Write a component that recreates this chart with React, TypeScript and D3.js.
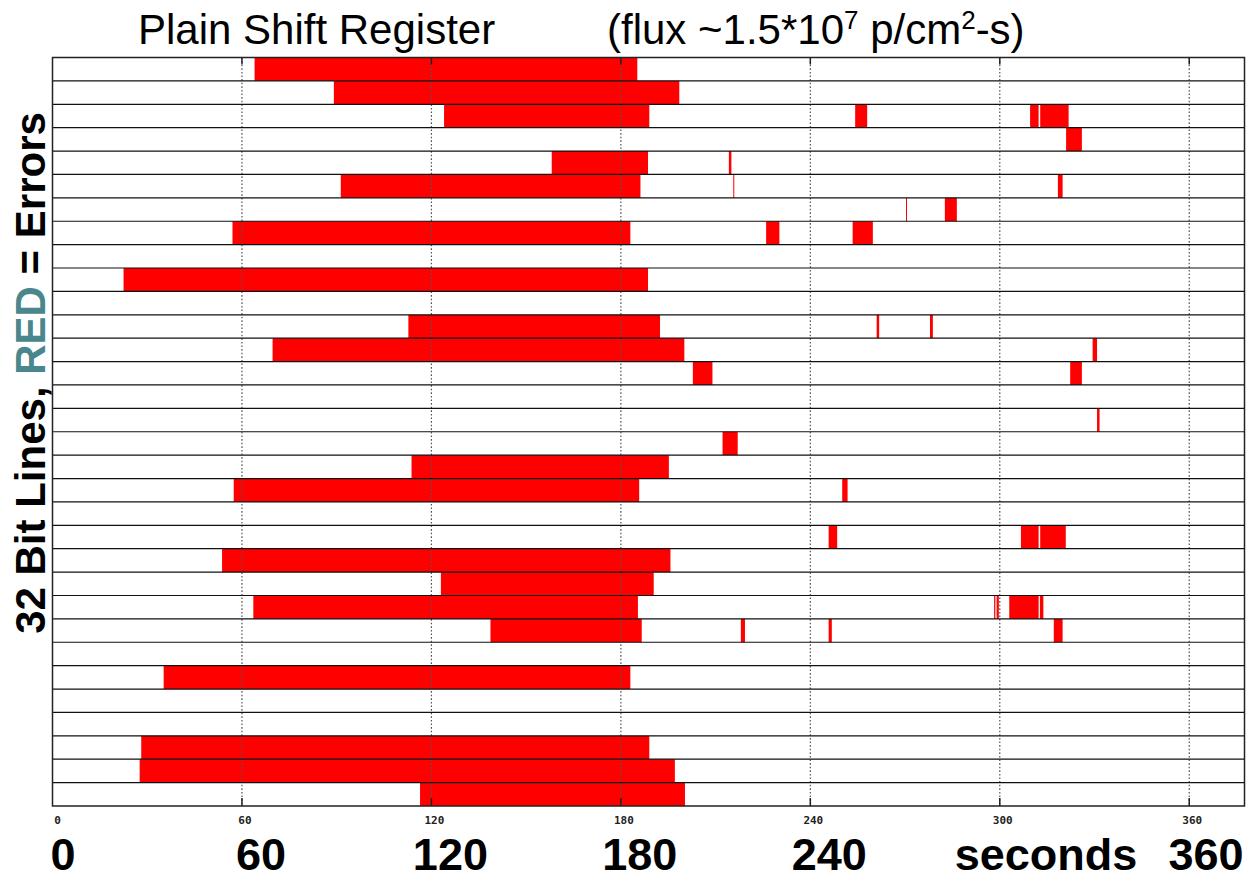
import React, { useRef, useEffect } from "react";
import * as d3 from "d3";

// 32 bit lines, line 1 is the top row
const bitLines = d3.range(1, 33);
const gridTicks = [0, 60, 120, 180, 240, 300, 360];
const bigTickLabels = [0, 60, 120, 180, 240, 360];
const axisWord = "seconds";

// error spans: [bit line, start (s), end (s)]
const errorSpans: [number, number, number][] = [
  [1, 64.0, 185.2],
  [2, 89.1, 198.5],
  [3, 124.0, 189.0], [3, 254.2, 258.0], [3, 309.6, 312.3], [3, 312.8, 321.8],
  [4, 321.0, 326.0],
  [5, 158.1, 188.6], [5, 214.2, 215.0],
  [6, 91.3, 186.2], [6, 215.6, 215.9], [6, 318.4, 319.9],
  [7, 270.3, 270.6], [7, 282.6, 286.4],
  [8, 57.0, 183.0], [8, 226.0, 230.2], [8, 253.4, 259.8],
  [10, 22.5, 188.6],
  [12, 112.7, 192.4], [12, 261.0, 261.8], [12, 277.9, 278.8],
  [13, 69.7, 200.1], [13, 329.4, 330.8],
  [14, 202.8, 209.0], [14, 322.3, 326.0],
  [16, 330.8, 331.6],
  [17, 212.2, 217.0],
  [18, 113.7, 195.2],
  [19, 57.4, 185.8], [19, 250.1, 251.8],
  [21, 245.8, 248.5], [21, 306.7, 312.3], [21, 312.8, 320.9],
  [22, 53.7, 195.7],
  [23, 123.0, 190.4],
  [24, 63.6, 185.4], [24, 298.2, 298.6], [24, 299.0, 299.7], [24, 303.0, 312.3], [24, 312.7, 313.8],
  [25, 138.7, 186.6], [25, 218.0, 219.3], [25, 245.8, 246.8], [25, 317.1, 319.9],
  [27, 35.2, 183.0],
  [30, 28.1, 189.0],
  [31, 27.6, 197.1],
  [32, 116.4, 200.3],
];

const W = 1249;
const H = 880;
const SANS = "'Liberation Sans', Arial, sans-serif";

const ErrorChart = () => {
  const svgRef = useRef<SVGSVGElement>(null);

  useEffect(() => {
    const svg = d3.select(svgRef.current);
    svg.selectAll("*").remove();

    const left = 52.5, right = 1244.5, top = 57.5, bottom = 806;

    const x = d3.scaleLinear().domain([0, 377.5]).range([left, right]);
    const y = d3.scaleBand<number>().domain(bitLines).range([top, bottom]).padding(0);

    svg.append("rect").attr("width", W).attr("height", H).attr("fill", "#fff");

    // red error bars
    svg
      .append("g")
      .selectAll("rect")
      .data(errorSpans)
      .join("rect")
      .attr("x", (d) => x(d[1]))
      .attr("y", (d) => y(d[0]))
      .attr("width", (d) => Math.max(1, x(d[2]) - x(d[1])))
      .attr("height", y.bandwidth())
      .attr("fill", "#ff0000");

    // dotted vertical grid
    svg
      .append("g")
      .selectAll("line")
      .data(gridTicks.slice(1))
      .join("line")
      .attr("x1", (d) => x(d))
      .attr("x2", (d) => x(d))
      .attr("y1", top)
      .attr("y2", bottom)
      .attr("stroke", "#555")
      .attr("stroke-width", 1.2)
      .attr("stroke-dasharray", "1.6,2");

    // row separators
    svg
      .append("g")
      .selectAll("line")
      .data(bitLines.slice(1))
      .join("line")
      .attr("x1", left)
      .attr("x2", right)
      .attr("y1", (d) => y(d))
      .attr("y2", (d) => y(d))
      .attr("stroke", "#111")
      .attr("stroke-width", 1.2);

    // tick marks top and bottom
    const ticks = svg.append("g").attr("stroke", "#222").attr("stroke-width", 1.5);
    ticks
      .selectAll(".tt")
      .data(gridTicks.slice(1))
      .join("line")
      .attr("class", "tt")
      .attr("x1", (d) => x(d))
      .attr("x2", (d) => x(d))
      .attr("y1", top)
      .attr("y2", top + 7);
    ticks
      .selectAll(".tb")
      .data(gridTicks.slice(1))
      .join("line")
      .attr("class", "tb")
      .attr("x1", (d) => x(d))
      .attr("x2", (d) => x(d))
      .attr("y1", bottom - 8)
      .attr("y2", bottom);

    // frame
    svg
      .append("rect")
      .attr("x", left)
      .attr("y", top)
      .attr("width", right - left)
      .attr("height", bottom - top)
      .attr("fill", "none")
      .attr("stroke", "#222")
      .attr("stroke-width", 1.5);

    // small tick labels
    svg
      .append("g")
      .selectAll("text")
      .data(gridTicks)
      .join("text")
      .attr("x", (d) => x(d) + (d === 0 ? 5 : 3))
      .attr("y", 824)
      .attr("text-anchor", "middle")
      .attr("font-family", "'DejaVu Sans Mono', monospace")
      .attr("font-weight", "bold")
      .attr("font-size", 11)
      .attr("fill", "#222")
      .text((d) => d);

    // big tick labels
    svg
      .append("g")
      .selectAll("text")
      .data(bigTickLabels)
      .join("text")
      .attr("x", (d) => (d === 0 ? x(d) - 2 : d === 360 ? right - 1 : x(d) + 19))
      .attr("y", 870)
      .attr("text-anchor", (d) => (d === 0 ? "start" : d === 360 ? "end" : "middle"))
      .attr("font-family", SANS)
      .attr("font-weight", "bold")
      .attr("font-size", 45)
      .attr("fill", "#000")
      .text((d) => d);

    svg
      .append("text")
      .attr("x", x(360) - 52)
      .attr("y", 870)
      .attr("text-anchor", "end")
      .attr("font-family", SANS)
      .attr("font-weight", "bold")
      .attr("font-size", 45)
      .text(axisWord);

    // title
    svg
      .append("text")
      .attr("x", 138)
      .attr("y", 44)
      .attr("font-family", SANS)
      .attr("font-size", 42)
      .text("Plain Shift Register");

    const flux = svg
      .append("text")
      .attr("x", 607)
      .attr("y", 44)
      .attr("font-family", SANS)
      .attr("font-size", 42);
    flux.append("tspan").text("(flux ~1.5*10");
    flux.append("tspan").attr("dy", -15).attr("font-size", 26).text("7");
    flux.append("tspan").attr("dy", 15).text(" p/cm");
    flux.append("tspan").attr("dy", -15).attr("font-size", 26).text("2");
    flux.append("tspan").attr("dy", 15).text("-s)");

    // y label
    const yl = svg
      .append("text")
      .attr("transform", "translate(45,373) rotate(-90)")
      .attr("text-anchor", "middle")
      .attr("font-family", SANS)
      .attr("font-weight", "bold")
      .attr("font-size", 42)
      .attr("fill", "#000");
    yl.append("tspan").text("32 Bit Lines, ");
    yl.append("tspan").attr("fill", "#4a878c").text("RED");
    yl.append("tspan").text(" = Errors");
  }, []);

  return (
    <svg
      ref={svgRef}
      width={W}
      height={H}
      style={{ position: "absolute", left: 0, top: 0, display: "block" }}
    ></svg>
  );
};

export default function App() {
  return <ErrorChart />;
}
